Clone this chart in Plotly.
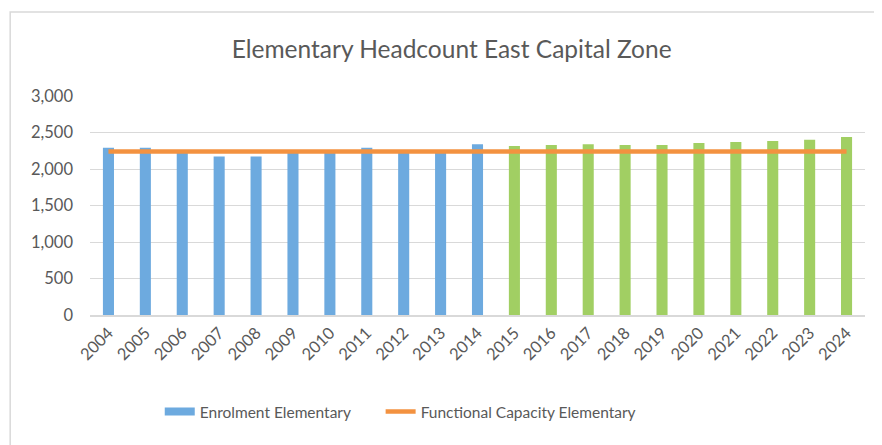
import plotly.graph_objects as go

years = [str(y) for y in range(2004, 2025)]
actual_years = years[:11]
projected_years = years[11:]
enrolment_actual = [2290, 2290, 2240, 2170, 2170, 2240, 2240, 2290, 2240, 2240, 2340]
enrolment_projected = [2315, 2330, 2340, 2330, 2330, 2355, 2370, 2385, 2400, 2440]
capacity = [2240] * len(years)

BLUE = "#6DAADF"
GREEN = "#A1CF63"
ORANGE = "#F39240"
GRAY = "#595959"
FONT = "Lato, Carlito, Calibri, sans-serif"

fig = go.Figure()
fig.add_trace(go.Bar(x=actual_years, y=enrolment_actual, marker_color=BLUE,
                     marker_line_width=0, width=0.3, showlegend=False,
                     name="Enrolment Elementary"))
fig.add_trace(go.Bar(x=projected_years, y=enrolment_projected, marker_color=GREEN,
                     marker_line_width=0, width=0.3, showlegend=False,
                     name="Enrolment Elementary (projected)"))
# legend proxy for the bar series (wide flat swatch like the original)
fig.add_trace(go.Scatter(x=[None], y=[None], mode="lines", name="Enrolment Elementary",
                         line=dict(color=BLUE, width=8), legend="legend"))
fig.add_trace(go.Scatter(x=years, y=capacity, mode="lines",
                         name="Functional Capacity Elementary",
                         line=dict(color=ORANGE, width=4.5), legend="legend2"))

legend_common = dict(orientation="h", y=-0.443, yanchor="middle", xanchor="left",
                     font=dict(size=15.5, color=GRAY, family=FONT),
                     bgcolor="rgba(0,0,0,0)")

fig.update_layout(
    width=882, height=445,
    margin=dict(l=82, r=25, t=88, b=138),
    paper_bgcolor="white", plot_bgcolor="white",
    font=dict(family=FONT, color=GRAY, size=16),
    barmode="overlay",
    title=dict(text="Elementary Headcount East Capital Zone", x=0.503, xanchor="center",
               y=0.906, yanchor="middle", font=dict(size=24.5, color=GRAY, family=FONT)),
    xaxis=dict(type="category", categoryorder="array", categoryarray=years,
               tickangle=-45, showgrid=False, showline=True, linecolor="#D9D9D9",
               linewidth=1.5, ticks="", tickfont=dict(size=16.5, color=GRAY),
               range=[-0.5, 20.5]),
    yaxis=dict(range=[0, 3000], dtick=500, tickformat=",", showgrid=True,
               gridcolor="#D9D9D9", gridwidth=1, zeroline=False, showline=False,
               ticks="", ticklabelstandoff=16, tickfont=dict(size=16.5, color=GRAY)),
    legend=dict(x=0.09, **legend_common),
    legend2=dict(x=0.375, **legend_common),
    shapes=[dict(type="rect", xref="paper", yref="paper", x0=-0.103, x1=1.06,
                 y0=-0.75, y1=1.384, line=dict(color="#D9D9D9", width=1.5),
                 fillcolor="rgba(0,0,0,0)", layer="below")],
)

fig.write_html("out.html")
